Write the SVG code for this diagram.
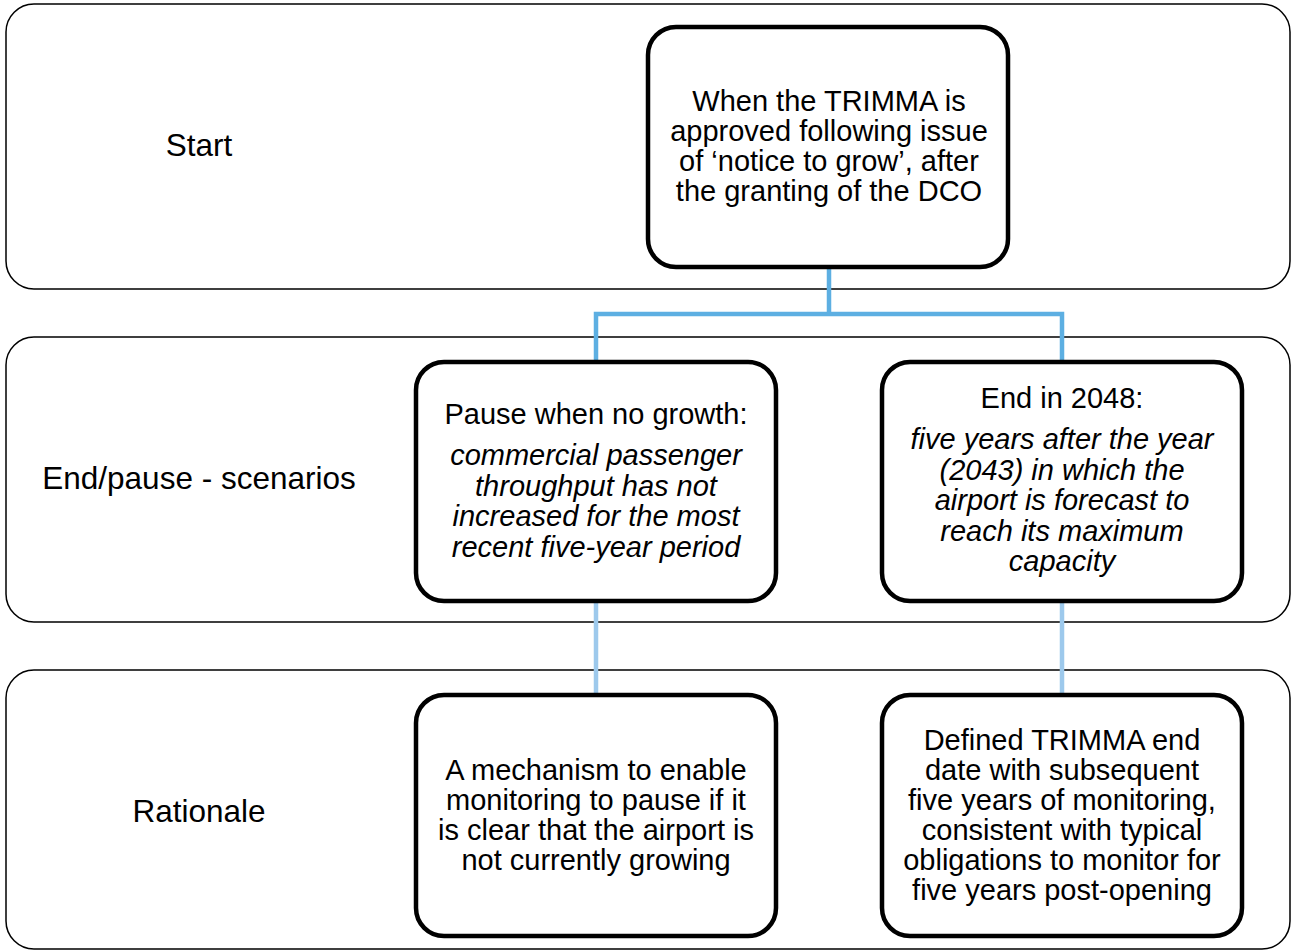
<svg xmlns="http://www.w3.org/2000/svg" width="1292" height="950" viewBox="0 0 1292 950">
<style>
.band{fill:#ffffff;stroke:#000000;stroke-width:1.5}
.node{fill:#ffffff;stroke:#000000;stroke-width:4.5}
.lbl{font-family:"Liberation Sans",Arial,sans-serif;font-size:31.5px;fill:#000000;text-anchor:middle}
.t{font-family:"Liberation Sans",Arial,sans-serif;font-size:29px;fill:#000000;text-anchor:middle}
.i{font-style:italic}
.c1{fill:none;stroke:#5DAFE2;stroke-width:4.5}
.c2{fill:none;stroke:#9DC9EC;stroke-width:4.5}
</style>
<rect width="1292" height="950" fill="#ffffff"/>
<g id="band-start">
<rect class="band" x="6" y="4" width="1284" height="285" rx="28" ry="28"/>
<text class="lbl" x="199" y="156">Start</text>
</g>
<g id="band-scenarios">
<rect class="band" x="6" y="337" width="1284" height="285" rx="28" ry="28"/>
<text class="lbl" x="199" y="489">End/pause - scenarios</text>
</g>
<g id="band-rationale">
<rect class="band" x="6" y="670" width="1284" height="279" rx="28" ry="28"/>
<text class="lbl" x="199" y="822">Rationale</text>
</g>
<g id="connectors">
<path class="c1" d="M829 266 V314 M596 362 V314 H1062 V362"/>
<path class="c2" d="M596 601 V695 M1062 601 V695"/>
</g>
<g id="node-start">
<rect class="node" x="648" y="27" width="360" height="240" rx="28" ry="28"/>
<text class="t" x="829" y="111">When the TRIMMA is</text>
<text class="t" x="829" y="141">approved following issue</text>
<text class="t" x="829" y="171">of ‘notice to grow’, after</text>
<text class="t" x="829" y="201">the granting of the DCO</text>
</g>
<g id="node-pause">
<rect class="node" x="416" y="362" width="360" height="239" rx="28" ry="28"/>
<text class="t" x="596" y="424">Pause when no growth:</text>
<text class="t i" x="596" y="465">commercial passenger</text>
<text class="t i" x="596" y="496">throughput has not</text>
<text class="t i" x="596" y="526">increased for the most</text>
<text class="t i" x="596" y="557">recent five-year period</text>
</g>
<g id="node-end">
<rect class="node" x="882" y="362" width="360" height="239" rx="28" ry="28"/>
<text class="t" x="1062" y="408">End in 2048:</text>
<text class="t i" x="1062" y="449">five years after the year</text>
<text class="t i" x="1062" y="480">(2043) in which the</text>
<text class="t i" x="1062" y="510">airport is forecast to</text>
<text class="t i" x="1062" y="541">reach its maximum</text>
<text class="t i" x="1062" y="571">capacity</text>
</g>
<g id="node-rationale-pause">
<rect class="node" x="416" y="695" width="360" height="241" rx="28" ry="28"/>
<text class="t" x="596" y="780">A mechanism to enable</text>
<text class="t" x="596" y="810">monitoring to pause if it</text>
<text class="t" x="596" y="840">is clear that the airport is</text>
<text class="t" x="596" y="870">not currently growing</text>
</g>
<g id="node-rationale-end">
<rect class="node" x="882" y="695" width="360" height="241" rx="28" ry="28"/>
<text class="t" x="1062" y="750">Defined TRIMMA end</text>
<text class="t" x="1062" y="780">date with subsequent</text>
<text class="t" x="1062" y="810">five years of monitoring,</text>
<text class="t" x="1062" y="840">consistent with typical</text>
<text class="t" x="1062" y="870">obligations to monitor for</text>
<text class="t" x="1062" y="900">five years post-opening</text>
</g>
</svg>
